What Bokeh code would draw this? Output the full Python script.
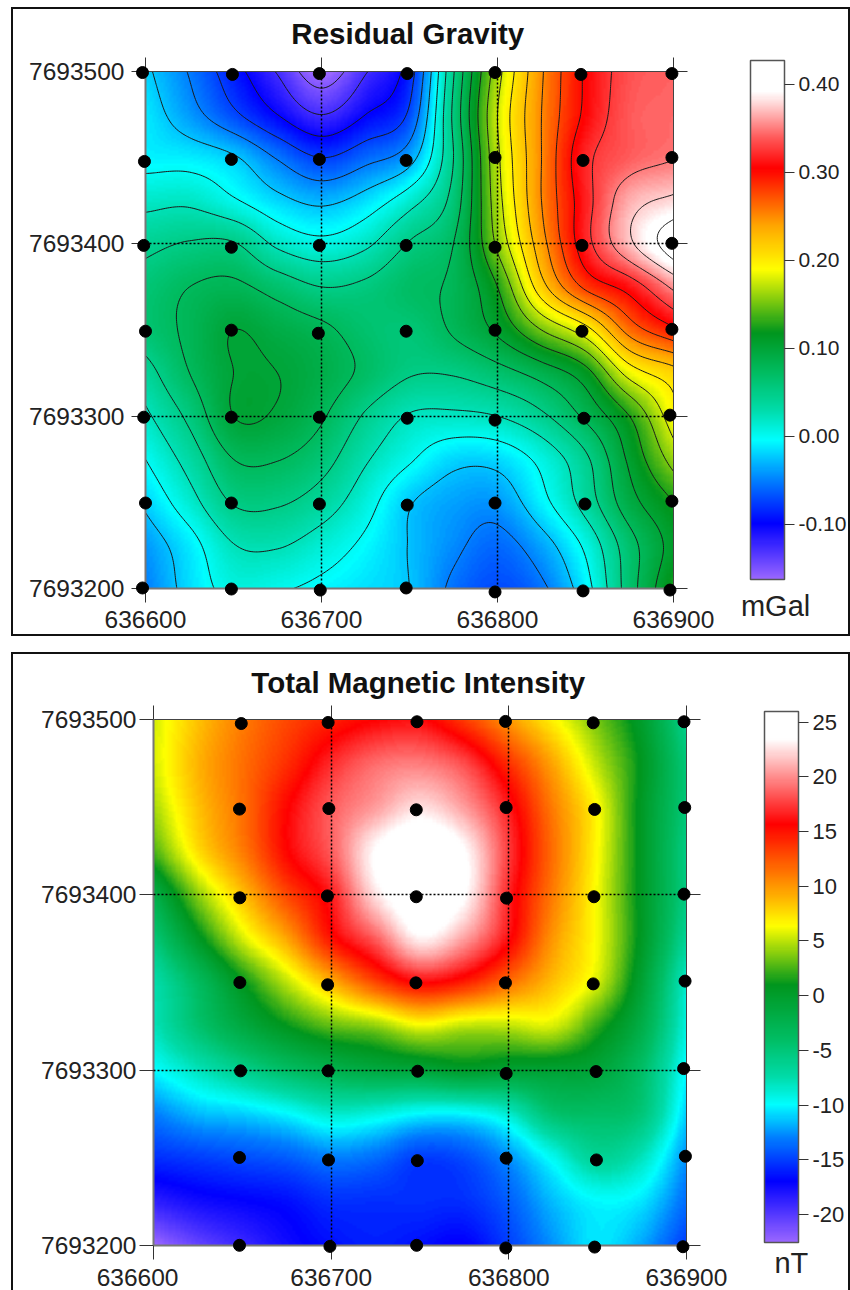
import numpy as np
from bokeh.plotting import figure
from bokeh.embed import file_html
from bokeh.resources import INLINE
from bokeh.core.properties import value
from bokeh.models import (Range1d, LinearAxis, FixedTicker, BasicTickFormatter, LinearColorMapper,
                          ColorBar, PrintfTickFormatter)

X_TICKS = [636600, 636700, 636800, 636900]
Y_TICKS = [7693200, 7693300, 7693400, 7693500]

TITLE_G = "Residual Gravity"
TITLE_M = "Total Magnetic Intensity"
UNIT_G = "mGal"
UNIT_M = "nT"
BAR_TICKS_G = [-0.10, 0.00, 0.10, 0.20, 0.30, 0.40]
BAR_TICKS_M = [-20, -15, -10, -5, 0, 5, 10, 15, 20, 25]
LEVELS_G = [round(-0.15 + 0.025 * i, 3) for i in range(23)]

# surfaces, rows north to south, columns west to east, every 25 m
GRAVITY = [
    [-.020, -.052, -.090, -.127, -.165, -.127, -.087, .048, .165, .247, .303, .335, .342],
    [-.012, -.040, -.070, -.100, -.125, -.100, -.070, .055, .175, .250, .305, .338, .344],
    [-.008, -.010, -.022, -.052, -.075, -.058, -.035, .050, .170, .250, .318, .340, .349],
    [.018, .020, .003, -.018, -.030, -.015, .015, .060, .165, .250, .315, .365, .380],
    [.043, .052, .052, .020, .007, .020, .052, .075, .155, .240, .315, .370, .415],
    [.060, .075, .080, .065, .050, .055, .070, .080, .125, .215, .280, .310, .355],
    [.062, .080, .100, .090, .080, .065, .060, .078, .105, .150, .190, .260, .295],
    [.040, .075, .100, .100, .088, .070, .052, .052, .065, .085, .115, .185, .215],
    [.020, .056, .100, .097, .078, .047, .023, .020, .025, .045, .080, .125, .190],
    [.000, .035, .075, .076, .060, .028, .003, -.018, -.017, .007, .045, .105, .160],
    [-.020, .015, .052, .053, .038, .010, -.023, -.037, -.040, -.008, .035, .090, .125],
    [-.040, -.010, .024, .027, .013, -.005, -.026, -.045, -.058, -.036, .005, .065, .110],
    [-.050, -.016, .008, .003, -.006, -.015, -.025, -.055, -.070, -.055, -.010, .063, .125],
]
MAGNETIC = [
    [5.5, 8.5, 11, 13, 14.5, 15.7, 16, 13.5, 10, 6.8, 3.5, 0, -6],
    [5.5, 9, 11.5, 14, 17, 19, 19.5, 18, 14, 9.5, 5, .8, -5],
    [4.5, 8.5, 11.5, 15.5, 18.5, 20.5, 22.5, 20.5, 16.5, 11, 6.5, .5, -5],
    [2.5, 7.5, 11, 15.5, 18.5, 23.5, 25.5, 23.5, 17.5, 11.5, 6.5, .5, -5.5],
    [-2, 4, 8.5, 13, 16.5, 22.5, 25, 23.5, 16.8, 11, 6.2, .5, -5.5],
    [-5, .5, 5.5, 9.5, 15, 18.5, 23, 20.5, 16, 10, 6.2, .5, -6.5],
    [-7.5, -3.5, 1, 5, 9, 13, 15.7, 14.5, 11.5, 8.5, 5.5, -.5, -8.5],
    [-8, -4.5, -1.5, 1, 3, 4, 6, 5, 5, 5.5, 2, -2, -9],
    [-10, -8, -6, -4, -2.5, -1.5, -1, 0, -.5, -.5, -1, -4, -10],
    [-13, -11.5, -11, -10, -8.5, -9, -10, -10, -8.5, -4.5, -4, -5, -11],
    [-15.5, -15, -14.5, -14, -13, -13.5, -15, -14.5, -12.5, -9.5, -6.5, -8, -12.5],
    [-18.5, -17.5, -17, -16.5, -15.5, -15.5, -15.5, -15.5, -14, -11.5, -10, -10.5, -13.5],
    [-22.5, -20.5, -19, -17.5, -16.5, -16, -16.5, -17, -15, -12.5, -10.5, -12, -15],
]

# measurement stations
ST_G_X = [636598.3, 636649.4, 636698.8, 636748.7, 636798.6, 636847.4, 636899.1,
          636599.4, 636648.8, 636698.8, 636748.1, 636798.6, 636848.6, 636899.1,
          636599.0, 636648.8, 636698.8, 636748.1, 636798.6, 636848.0, 636899.1,
          636600.0, 636648.8, 636698.2, 636748.1, 636798.6, 636848.0, 636899.1,
          636599.0, 636648.8, 636698.8, 636748.7, 636798.6, 636849.1, 636898.0,
          636600.0, 636648.8, 636698.8, 636748.7, 636798.6, 636849.7, 636899.1,
          636598.3, 636648.8, 636699.3, 636748.1, 636798.6, 636848.6, 636898.0]
ST_G_Y = [7693499.4, 7693498.3, 7693498.8, 7693498.8, 7693499.4, 7693498.3, 7693498.8,
          7693447.8, 7693449.0, 7693449.0, 7693448.4, 7693450.1, 7693448.4, 7693450.1,
          7693399.1, 7693398.0, 7693399.1, 7693399.1, 7693398.0, 7693399.1, 7693400.3,
          7693349.3, 7693349.9, 7693348.1, 7693349.3, 7693349.9, 7693349.3, 7693350.4,
          7693299.4, 7693299.4, 7693299.4, 7693298.8, 7693297.7, 7693298.8, 7693300.6,
          7693249.6, 7693249.6, 7693249.0, 7693248.4, 7693249.6, 7693249.0, 7693250.7,
          7693200.3, 7693199.7, 7693199.1, 7693200.3, 7693198.0, 7693198.6, 7693199.1]
ST_M_X = [636649.4, 636698.3, 636748.3, 636798.1, 636847.5, 636898.6,
          636648.4, 636698.7, 636747.9, 636798.5, 636848.3, 636899.0,
          636648.6, 636697.9, 636747.9, 636798.7, 636847.9, 636898.6,
          636648.6, 636698.0, 636747.7, 636798.1, 636847.5, 636899.2,
          636649.0, 636698.3, 636748.7, 636798.5, 636849.1, 636898.4,
          636648.4, 636698.5, 636748.5, 636798.5, 636849.3, 636899.4,
          636648.4, 636699.3, 636748.1, 636798.3, 636848.3, 636898.0]
ST_M_Y = [7693497.7, 7693498.3, 7693498.7, 7693498.9, 7693498.1, 7693498.7,
          7693448.9, 7693449.2, 7693448.5, 7693449.8, 7693448.7, 7693449.8,
          7693398.3, 7693399.4, 7693398.9, 7693398.1, 7693398.9, 7693400.4,
          7693350.0, 7693348.7, 7693349.8, 7693349.8, 7693349.2, 7693350.8,
          7693299.6, 7693299.6, 7693299.4, 7693298.1, 7693299.2, 7693300.9,
          7693250.2, 7693248.8, 7693248.4, 7693249.8, 7693248.8, 7693250.9,
          7693200.1, 7693199.5, 7693200.1, 7693198.6, 7693199.1, 7693199.3]

STOPS_G = [(-0.1625, (153, 102, 255)), (-0.10, (0, 0, 255)), (-0.05, (0, 128, 255)), (-0.005, (0, 255, 255)),
           (0.03, (0, 220, 170)), (0.07, (0, 190, 100)), (0.118, (0, 150, 30)), (0.19, (255, 255, 0)),
           (0.24, (255, 165, 0)), (0.305, (255, 0, 0)), (0.34, (255, 90, 90)), (0.392, (255, 255, 255)),
           (0.427, (255, 255, 255))]
STOPS_M = [(-22.56, (153, 102, 255)), (-17, (0, 0, 255)), (-13, (0, 128, 255)), (-10, (0, 255, 255)),
           (-7.5, (0, 220, 170)), (-4, (0, 190, 100)), (1, (0, 150, 30)), (6.4, (255, 255, 0)),
           (9.5, (255, 165, 0)), (15.7, (255, 0, 0)), (18.5, (255, 90, 90)), (23.5, (255, 255, 255)),
           (25.96, (255, 255, 255))]


def make_palette(stops, n=256):
    vals = [s[0] for s in stops]
    t = np.linspace(vals[0], vals[-1], n)
    chan = [np.interp(t, vals, [s[1][i] for s in stops]) for i in range(3)]
    return ["#%02x%02x%02x" % (int(r), int(g), int(b)) for r, g, b in zip(*chan)]


def smooth(grid, k=20):
    """Catmull-Rom resampling of a read-off surface for display."""
    def along(a):
        n = a.shape[0] - 1
        e = np.concatenate([2 * a[:1] - a[1:2], a, 2 * a[-1:] - a[-2:-1]], axis=0)
        pos = np.linspace(0, n, n * k + 1)
        i = np.minimum(pos.astype(int), n - 1)
        t = (pos - i).reshape((-1,) + (1,) * (a.ndim - 1))
        p0, p1, p2, p3 = e[i], e[i + 1], e[i + 2], e[i + 3]
        return 0.5 * (2 * p1 + (p2 - p0) * t + (2 * p0 - 5 * p1 + 4 * p2 - p3) * t ** 2 +
                      (3 * p1 - p0 - 3 * p2 + p3) * t ** 3)
    g = np.asarray(grid, float)
    g = along(g)
    g = along(g.T).T
    return g


FONT = "Liberation Sans"


def panel(surface, stops, bar_ticks, bar_fmt, title, unit, sx, sy, fw, fh, left, right, top, bottom,
          margin, borders, title_x, title_y, bar_x, bar_y, bar_h, unit_x, unit_y, label_size, bar_label_size,
          title_size, x_standoff, y_standoff, levels=None, shifted_label=None):
    p = figure(frame_width=fw, frame_height=fh, output_backend="svg", toolbar_location=None,
               x_range=Range1d(636600, 636900), y_range=Range1d(7693200, 7693500),
               min_border_left=left, min_border_right=right, min_border_top=top, min_border_bottom=bottom,
               x_axis_location="below", y_axis_location="left", margin=margin, styles=borders)
    p.outline_line_color = None
    p.background_fill_color = "white"
    z = np.flipud(smooth(surface))
    mapper = LinearColorMapper(palette=make_palette(stops), low=stops[0][0], high=stops[-1][0])
    p.image(image=[z], x=636600, y=7693200, dw=300, dh=300, color_mapper=mapper)
    if levels is not None:
        xs = np.linspace(636600, 636900, z.shape[1])
        ys = np.linspace(7693200, 7693500, z.shape[0])
        p.contour(xs, ys, z, levels, line_color="#1a1a1a", line_width=1.0)
    p.add_layout(LinearAxis(), "above")
    p.add_layout(LinearAxis(), "right")
    for ax in p.axis:
        ax.major_tick_out = 14
        ax.major_tick_in = 0
        ax.minor_tick_line_color = None
        ax.axis_line_color = "#777777"
        ax.axis_line_width = 2
        ax.major_tick_line_color = "#333333"
        ax.major_tick_line_width = 1
    for ax in p.xaxis:
        ax.ticker = FixedTicker(ticks=X_TICKS)
    for ax in p.yaxis:
        ax.ticker = FixedTicker(ticks=Y_TICKS)
    for ax in list(p.below) + list(p.left):
        ax.formatter = BasicTickFormatter(use_scientific=False)
        ax.major_label_text_font = FONT
        ax.major_label_text_font_size = label_size
        ax.major_label_text_color = "#222222"
    for ax in p.below:
        ax.major_label_standoff = x_standoff
    for ax in p.left:
        ax.major_label_standoff = y_standoff
    for ax in list(p.above) + list(p.right):
        ax.major_label_text_font_size = "0px"
        ax.major_label_text_color = None
        ax.axis_line_color = "#444444"
        ax.axis_line_width = 1
    for g in p.grid:
        g.level = "overlay"
        g.grid_line_color = "black"
        g.grid_line_dash = "2 2"
        g.grid_line_width = 1.5
    p.xgrid.ticker = FixedTicker(ticks=X_TICKS)
    p.ygrid.ticker = FixedTicker(ticks=Y_TICKS)
    p.scatter(sx, sy, size=12, color="black", marker="circle", level="overlay")
    cb = ColorBar(color_mapper=mapper, ticker=FixedTicker(ticks=bar_ticks), formatter=PrintfTickFormatter(format=bar_fmt),
                  width=34, height=bar_h, location=(bar_x, bar_y), padding=0, margin=0,
                  major_tick_in=0, major_tick_out=10, major_tick_line_color="#333333", minor_tick_line_color=None,
                  bar_line_color="#555555", bar_line_width=1.5, major_label_text_font=FONT,
                  major_label_text_font_size=bar_label_size, major_label_text_color="#222222",
                  label_standoff=4, border_line_color=None, background_fill_color=None)
    p.add_layout(cb, "center")
    p.text([title_x], [title_y], text=[title], level="overlay", text_font=value(FONT),
           text_font_style="bold", text_font_size=value(title_size), text_color="#111111",
           text_align="center", text_baseline="middle")
    p.text([unit_x], [unit_y], text=[unit], level="overlay", text_font=value(FONT),
           text_font_size=value("29px"), text_color="#222222", text_align="center", text_baseline="middle")
    if shifted_label is not None:
        for ax in p.below:
            ax.major_label_overrides = {636600: " "}
        p.text([shifted_label[0]], [shifted_label[1]], text=["636600"], level="overlay", text_font=value(FONT),
               text_font_size=value(label_size), text_color="#222222", text_align="center", text_baseline="middle")
    return p


B1 = {"border": "2px solid #111"}
B2 = {"border-top": "2px solid #111", "border-left": "2px solid #111", "border-right": "2px solid #111"}
p1 = panel(GRAVITY, STOPS_G, BAR_TICKS_G, "%.2f", TITLE_G, UNIT_G, ST_G_X, ST_G_Y, 528, 517, 132, 175, 62, 46,
           (7, 0, 0, 11), B1, 636749, 7693522, 605, 9, 519, 636958, 7693190, "24.5px", "21px", "29.5px", 8, 7, LEVELS_G)
p2 = panel(MAGNETIC, STOPS_M, BAR_TICKS_M, "%d", TITLE_M, UNIT_M, ST_M_X, ST_M_Y, 533, 526, 140, 162, 65, 45,
           (16, 0, 0, 11), B2, 636749, 7693521, 611, 3, 531, 636959, 7693190, "24.5px", "22px", "29.5px", 4, 3, None,
           (636591, 7693182))
open("out.html", "w").write(file_html([p1, p2], INLINE))
